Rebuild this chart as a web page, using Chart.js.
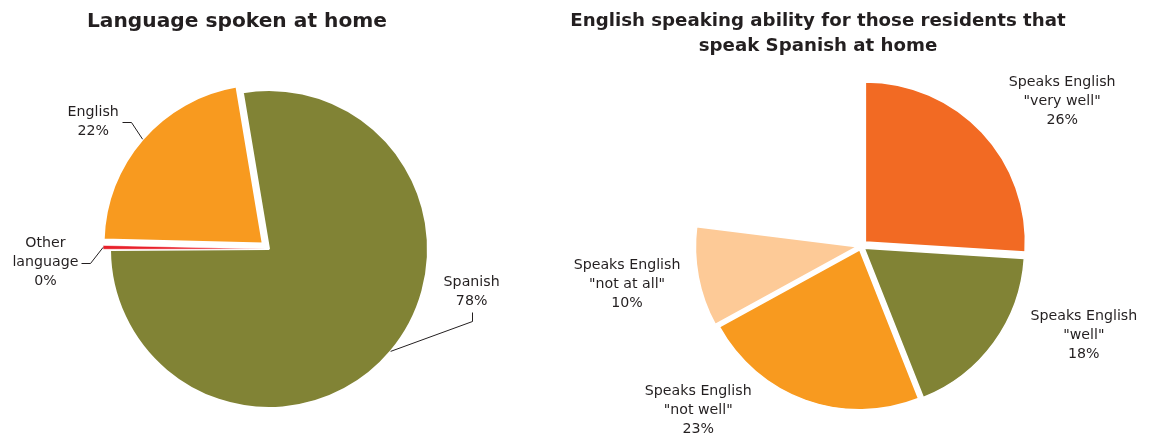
<!DOCTYPE html>
<html>
<head>
<meta charset="utf-8">
<title>Language at home</title>
<script src="https://cdn.jsdelivr.net/npm/chart.js@4"></script>
<style>
  body { margin: 0; background: #fff; overflow: hidden; }
  #wrap { position: relative; width: 1161px; height: 437px; }
  canvas { position: absolute; top: 0; }
  #langChart { left: 0; }
  #abilityChart { left: 540px; }
</style>
</head>
<body>
<div id="wrap">
  <canvas id="langChart" width="540" height="437"></canvas>
  <canvas id="abilityChart" width="621" height="437"></canvas>
</div>
<script>
// language spoken at home, % of residents
const langNames = ['Spanish', 'Other\nlanguage', 'English'];
const langShare = [77.55, 0.49, 21.96];

// english ability of the spanish speakers, % of all residents
// the last entry (english only) is left blank on the pie
const abilityNames = ['Speaks English\n"very well"', 'Speaks English\n"well"',
                      'Speaks English\n"not well"', 'Speaks English\n"not at all"', 'English only'];
const abilityShare = [26, 18, 23, 10, 23];

const INK = '#231f20';
const OLIVE = '#818335';
const ORANGE = '#f89a1f';

Chart.defaults.font.family = "'DejaVu Sans', Verdana, sans-serif";
Chart.defaults.color = INK;

// chart heading, drawn at a fixed spot above the pie
const heading = {
  id: 'heading',
  afterDraw(chart, args, opts) {
    const ctx = chart.ctx;
    ctx.save();
    ctx.font = 'bold ' + opts.size + 'px ' + Chart.defaults.font.family;
    ctx.fillStyle = INK;
    ctx.textAlign = 'center';
    ctx.textBaseline = 'alphabetic';
    opts.lines.forEach((t, i) => ctx.fillText(t, opts.x, opts.y + i * opts.gap));
    ctx.restore();
  }
};

// name + percent next to each slice, with an optional leader line
const sliceLabels = {
  id: 'sliceLabels',
  afterDatasetsDraw(chart, args, opts) {
    const ctx = chart.ctx;
    const meta = chart.getDatasetMeta(0);
    const ds = chart.data.datasets[0];
    const total = ds.data.reduce((a, b) => a + b, 0);
    const lh = 19;
    ctx.save();
    ctx.font = '14.2px ' + Chart.defaults.font.family;
    ctx.fillStyle = INK;
    ctx.strokeStyle = INK;
    ctx.lineWidth = 1;
    ctx.textAlign = 'center';
    ctx.textBaseline = 'middle';
    meta.data.forEach((arc, i) => {
      const place = opts.place[i];
      if (!place) return;
      const p = arc.getProps(['x', 'y', 'startAngle', 'endAngle', 'outerRadius', 'circumference'], true);
      const a = (place[0] - 90) * Math.PI / 180;
      const cx = p.x + place[1] * Math.cos(a);
      const cy = p.y + place[1] * Math.sin(a);
      const lines = chart.data.labels[i].split('\n');
      lines.push(Math.round(ds.data[i] / total * 100) + '%');
      const top = cy - (lines.length - 1) / 2 * lh;
      lines.forEach((t, k) => ctx.fillText(t, cx, top + k * lh));

      const side = opts.leader && opts.leader[i];
      if (!side) return;
      // edge point at the middle of the (exploded) slice
      const mid = (p.startAngle + p.endAngle) / 2;
      const off = (arc.options.offset || 0) / 4;
      const fix = 1 - Math.sin(Math.min(Math.PI, p.circumference));
      const r = p.outerRadius + off * fix;
      const ex = p.x + Math.cos(mid) * (off + r);
      const ey = p.y + Math.sin(mid) * (off + r);
      let sx, sy, tx, ty;
      if (side === 'right') {
        const w = Math.max(...lines.map(t => ctx.measureText(t).width));
        sx = cx + w / 2 + 3; sy = cy; tx = sx + 9; ty = sy;
      } else {
        sx = cx; sy = cy + lines.length * lh / 2 + 2; tx = sx; ty = sy + 9;
      }
      ctx.beginPath();
      ctx.moveTo(Math.round(sx) + 0.5, Math.round(sy) + 0.5);
      ctx.lineTo(Math.round(tx) + 0.5, Math.round(ty) + 0.5);
      ctx.lineTo(ex, ey);
      ctx.stroke();
    });
    ctx.restore();
  }
};

function pieOptions(pad, radius, rotation, extra) {
  return {
    responsive: false,
    animation: false,
    rotation: rotation,
    radius: radius,
    layout: { padding: pad },
    events: [],
    plugins: Object.assign({ legend: { display: false }, tooltip: { enabled: false } }, extra)
  };
}

new Chart(document.getElementById('langChart'), {
  type: 'pie',
  data: {
    labels: langNames,
    datasets: [{
      data: langShare,
      backgroundColor: [OLIVE, '#e8202a', ORANGE],
      borderColor: '#fff',
      borderWidth: [2, 0.5, 2],
      offset: [0, 14, 33]
    }]
  },
  options: pieOptions({ top: 61, bottom: 0, left: 0, right: 2 }, 159, -9.5, {
    heading: { lines: ['Language spoken at home'], x: 237, y: 27, gap: 25, size: 20.2 },
    sliceLabels: {
      place: [[101.8, 207], [266.5, 224], [305.9, 217]],
      leader: ['bottom', 'right', 'right']
    }
  }),
  plugins: [heading, sliceLabels]
});

new Chart(document.getElementById('abilityChart'), {
  type: 'pie',
  data: {
    labels: abilityNames,
    datasets: [{
      data: abilityShare,
      backgroundColor: ['#f26a23', OLIVE, ORANGE, '#fdca97', 'rgba(0,0,0,0)'],
      borderColor: '#fff',
      borderWidth: [1.5, 1.5, 1.5, 1.5, 0],
      offset: [24, 16, 16, 16, 0]
    }]
  },
  options: pieOptions({ top: 55, bottom: 0, left: 21, right: 0 }, 160, 0, {
    heading: {
      lines: ['English speaking ability for those residents that', 'speak Spanish at home'],
      x: 278, y: 26, gap: 25, size: 18.2
    },
    sliceLabels: {
      place: [[54.2, 248], [111.8, 240], [224.8, 231], [260.8, 237]]
    }
  }),
  plugins: [heading, sliceLabels]
});
</script>
</body>
</html>
